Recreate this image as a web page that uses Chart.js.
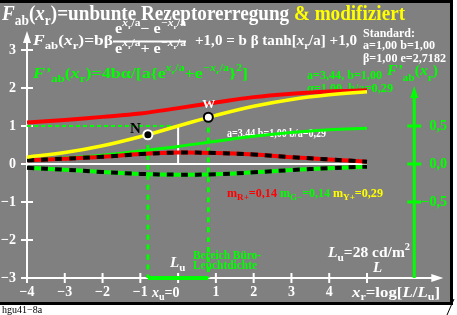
<!DOCTYPE html>
<html>
<head>
<meta charset="utf-8">
<script src="https://cdn.jsdelivr.net/npm/chart.js@4"></script>
<style>
  html, body { margin: 0; padding: 0; background: #fff; }
  canvas { display: block; }
</style>
</head>
<body>
<canvas id="c" width="457" height="315"></canvas>
<script>
// values (x = log[L/Lu])
const xs = [-4, -3, -2, -1, 0, 1, 2, 3, 4, 5];
const redF = [1.09, 1.16, 1.24, 1.33, 1.47, 1.62, 1.76, 1.85, 1.91, 1.94];
const yellowF = [0.18, 0.30, 0.48, 0.72, 1.00, 1.28, 1.52, 1.70, 1.82, 1.90];
const greenF = [0.10, 0.16, 0.23, 0.34, 0.46, 0.60, 0.73, 0.83, 0.90, 0.94];
const redD = [0.10, 0.14, 0.19, 0.26, 0.30, 0.29, 0.25, 0.18, 0.12, 0.06];
const greenD = [-0.10, -0.15, -0.21, -0.26, -0.28, -0.27, -0.22, -0.16, -0.11, -0.07];

const pointN = { x: -0.8, y: 0.77 };
const pointW = { x: 0.8, y: 1.23 };

const yTicks = [-3, -2, -1, 0, 1, 2, 3];
const xTicks = [-4, -3, -2, -1, 0, 1, 2, 3, 4];
const rightTicks = [1, 0, -1];
const rightLabels = ["0,5", "0,0", "\u22120,5"];

const GRAY = "#808080", GREEN = "#00ff00", RED = "#ff0000", YELLOW = "#ffff00";
const SERIF = "'Liberation Serif', 'DejaVu Serif', serif";

function pts(ys) { return xs.map((x, i) => ({ x: x, y: ys[i] })); }

function line(data, color, width, order, dash) {
  return {
    data: data, borderColor: color, borderWidth: width, borderDash: dash || [],
    pointRadius: 0, tension: 0.4, fill: false, clip: false, order: order
  };
}

// rich text: parts = [text, size, dy, color, italic]
function rich(ctx, x, y, parts, color, width) {
  let total = 0;
  parts.forEach(p => {
    ctx.font = (p[4] ? "italic " : "") + "bold " + p[1] + "px " + SERIF;
    total += ctx.measureText(p[0]).width;
  });
  const sx = width ? width / total : 1;
  ctx.save();
  ctx.translate(x, y);
  ctx.scale(sx, 1);
  ctx.textBaseline = "alphabetic";
  ctx.textAlign = "left";
  let cx = 0;
  parts.forEach(p => {
    ctx.font = (p[4] ? "italic " : "") + "bold " + p[1] + "px " + SERIF;
    ctx.fillStyle = p[3] || color;
    ctx.fillText(p[0], cx, p[2] || 0);
    cx += ctx.measureText(p[0]).width;
  });
  ctx.restore();
}

function arrow(ctx, x1, y1, x2, y2, color, w) {
  const a = Math.atan2(y2 - y1, x2 - x1);
  ctx.save();
  ctx.strokeStyle = color; ctx.fillStyle = color; ctx.lineWidth = w;
  ctx.beginPath(); ctx.moveTo(x1, y1);
  ctx.lineTo(x2 - 8 * Math.cos(a), y2 - 8 * Math.sin(a)); ctx.stroke();
  ctx.beginPath();
  ctx.moveTo(x2, y2);
  ctx.lineTo(x2 - 12 * Math.cos(a) + 4 * Math.sin(a), y2 - 12 * Math.sin(a) - 4 * Math.cos(a));
  ctx.lineTo(x2 - 12 * Math.cos(a) - 4 * Math.sin(a), y2 - 12 * Math.sin(a) + 4 * Math.cos(a));
  ctx.closePath(); ctx.fill();
  ctx.restore();
}

const frame = {
  id: "frame",
  beforeDraw(chart) {
    const ctx = chart.ctx;
    ctx.save();
    ctx.fillStyle = "#fff"; ctx.fillRect(0, 0, 457, 315);
    ctx.fillStyle = GRAY; ctx.fillRect(0, 0, 450, 302);
    ctx.fillStyle = "#000";
    ctx.fillRect(0, 0, 453, 3);
    ctx.fillRect(450, 0, 3, 305);
    ctx.fillRect(0, 302, 453, 3);
    ctx.strokeStyle = "#000"; ctx.lineWidth = 1;
    ctx.beginPath(); ctx.moveTo(447, 315); ctx.lineTo(454, 299); ctx.stroke();
    ctx.font = "10px " + SERIF; ctx.fillStyle = "#000";
    ctx.fillText("hgu41\u22128a", 2, 313);
    ctx.restore();
  },
  beforeDatasetsDraw(chart) {
    const ctx = chart.ctx;
    const sx = chart.scales.x, sy = chart.scales.y;
    const X = v => sx.getPixelForValue(v), Y = v => sy.getPixelForValue(v);
    ctx.save();
    // left axis and bottom axis
    arrow(ctx, X(-4), Y(-3), X(-4), Y(3.5), "#fff", 2);
    arrow(ctx, X(-4), Y(-3), X(7.02), Y(-3), "#fff", 2);
    // right green axis
    arrow(ctx, X(6.25), Y(-3), X(6.25), Y(2.05), GREEN, 3);
    ctx.lineWidth = 2;
    ctx.strokeStyle = "#fff";
    yTicks.forEach(v => {
      ctx.beginPath(); ctx.moveTo(X(-4) - 6, Y(v)); ctx.lineTo(X(-4) + 6, Y(v)); ctx.stroke();
    });
    xTicks.concat([5]).forEach(v => {
      ctx.beginPath(); ctx.moveTo(X(v), Y(-3) - 5); ctx.lineTo(X(v), Y(-3) + 5); ctx.stroke();
    });
    ctx.strokeStyle = GREEN; ctx.lineWidth = 3;
    rightTicks.forEach(v => {
      ctx.beginPath(); ctx.moveTo(X(6.25) - 7, Y(v)); ctx.lineTo(X(6.25) + 7, Y(v)); ctx.stroke();
    });

    ctx.textBaseline = "middle";
    ctx.font = "bold 14px " + SERIF;
    ctx.fillStyle = "#fff";
    ctx.textAlign = "right";
    yTicks.forEach(v => ctx.fillText(v < 0 ? "\u2212" + (-v) : String(v), 16, Y(v)));
    ctx.textAlign = "center";
    xTicks.forEach(v => {
      if (v !== 0) ctx.fillText(v < 0 ? "\u2212" + (-v) : String(v), X(v), 292);
    });
    ctx.fillStyle = GREEN; ctx.textAlign = "right";
    rightTicks.forEach((v, i) => ctx.fillText(rightLabels[i], 447, Y(v)));
    ctx.restore();

    // x labels
    rich(ctx, 152, 297, [["x", 14, 0, 0, 1], ["u", 10, 3], ["=0", 14]], "#fff");
    rich(ctx, 352, 297, [["x", 14, 0, 0, 1], ["r", 10, 3], ["=log[", 14], ["L", 14, 0, 0, 1], ["/", 14],
      ["L", 14, 0, 0, 1], ["u", 10, 3], ["]", 14]], "#fff", 88);

    // title
    rich(ctx, 2, 20, [["F", 20, 0, 0, 1], ["ab", 14, 5], ["(", 20], ["x", 20, 0, 0, 1], ["r", 14, 5],
      [")=unbunte Rezeptorerregung ", 20], ["& modifiziert", 20, 0, YELLOW]], "#fff", 403);
    // formula line
    rich(ctx, 33, 45, [["F", 15, 0, 0, 1], ["ab", 11, 4], ["(", 15], ["x", 15, 0, 0, 1], ["r", 11, 4],
      [")=b\u03b2", 15]], "#fff", 80);
    rich(ctx, 115, 33, [["e", 14], ["x", 10, -7, 0, 1], ["r", 7, -4], ["/a", 10, -7], ["\u2212 e", 14],
      ["\u2212x", 10, -7, 0, 1], ["r", 7, -4], ["/a", 10, -7]], "#fff", 71);
    rich(ctx, 115, 53, [["e", 14], ["x", 10, -7, 0, 1], ["r", 7, -4], ["/a", 10, -7], ["+ e", 14],
      ["\u2212x", 10, -7, 0, 1], ["r", 7, -4], ["/a", 10, -7]], "#fff", 71);
    ctx.save(); ctx.fillStyle = "#fff"; ctx.fillRect(113, 40.5, 73, 2); ctx.restore();
    rich(ctx, 195, 45, [["+1,0 = b \u03b2 tanh[", 15], ["x", 15, 0, 0, 1], ["r", 11, 4], ["/a] +1,0", 15]],
      "#fff", 162);
    // green derivative formula
    rich(ctx, 33, 78, [["F\u2019", 15, 0, 0, 1], ["ab", 11, 4], ["(", 15], ["x", 15, 0, 0, 1], ["r", 11, 4],
      [")=4b\u03b1/[a{e", 15], ["x", 10, -7, 0, 1], ["r", 7, -4], ["/a", 10, -7], ["+e", 15],
      ["\u2212x", 10, -7, 0, 1], ["r", 7, -4], ["/a", 10, -7], ["}", 15], ["2", 10, -7], ["]", 15]], GREEN, 215);
    // standard block
    rich(ctx, 363, 37, [["Standard:", 12]], "#fff", 52);
    rich(ctx, 363, 49, [["a=1,00 b=1,00", 12]], "#fff", 72);
    rich(ctx, 363, 62, [["\u03b2=1,00 e=2,7182", 12]], "#fff", 83);
    // green parameters
    rich(ctx, 307, 79, [["a=3,44, b=1,00", 12]], GREEN, 75);
    rich(ctx, 307, 92, [["\u03b1=1,00, b/a=0,29", 12]], GREEN, 86);
    rich(ctx, 387, 75, [["F\u2019", 15, 0, 0, 1], ["ab", 11, 6], ["(", 15], ["x", 15, 0, 0, 1], ["r", 11, 6],
      [")", 15]], GREEN, 51);
    rich(ctx, 227, 137, [["a=3,44 b=1,00 b/a=0,29", 12]], "#fff", 99);
    rich(ctx, 227, 197, [["m", 12], ["R+", 9, 3], ["=0,14 ", 12]], RED, 53);
    rich(ctx, 280, 197, [["m", 12], ["G\u2212", 9, 3], ["=0,14 ", 12]], GREEN, 53);
    rich(ctx, 333, 197, [["m", 12], ["Y+", 9, 3], ["=0,29", 12]], YELLOW, 50);
    // bottom labels
    rich(ctx, 328, 257, [["L", 15, 0, 0, 1], ["u", 11, 4], ["=28 cd/m", 15], ["2", 10, -7]], "#fff", 82);
    rich(ctx, 373, 272, [["L", 15, 0, 0, 1]], "#fff");
    rich(ctx, 170, 267, [["L", 15, 0, 0, 1], ["u", 11, 4]], "#fff");
    rich(ctx, 193, 259, [["Bereich B\u00fcro-", 12]], GREEN, 68);
    rich(ctx, 193, 269, [["Leuchtdichte", 12]], GREEN, 64);
  },
  afterDatasetsDraw(chart) {
    const ctx = chart.ctx;
    const sx = chart.scales.x, sy = chart.scales.y;
    rich(ctx, 130, 133, [["N", 15]], "#000");
    rich(ctx, sx.getPixelForValue(pointW.x) - 6, sy.getPixelForValue(pointW.y) - 9, [["W", 13]], "#fff");
  }
};

new Chart(document.getElementById("c"), {
  type: "line",
  data: {
    datasets: [
      line([{ x: -4, y: 0 }, { x: 5, y: 0 }], "#fff", 2, 20),
      line([{ x: -4, y: 1 }, { x: -0.1, y: 1 }], GREEN, 2, 20, [4, 3]),
      line([{ x: 0, y: 0 }, { x: 0, y: 1 }], "#fff", 2, 20),
      line([{ x: pointN.x, y: pointN.y }, { x: pointN.x, y: -3 }], GREEN, 3, 20, [5, 5]),
      line([{ x: pointW.x, y: pointW.y }, { x: pointW.x, y: -3 }], GREEN, 3, 20, [5, 5]),
      line([{ x: pointN.x, y: -3 }, { x: pointW.x, y: -3 }], GREEN, 4, 19),
      line(pts(greenF), GREEN, 3, 10),
      line(pts(redD), RED, 4, 9),
      line(pts(redD), "#000", 4, 8, [7, 7]),
      line(pts(greenD), GREEN, 4, 9),
      line(pts(greenD), "#000", 4, 8, [7, 7]),
      line(pts(redF), RED, 4, 6),
      line(pts(yellowF), YELLOW, 3.5, 5),
      {
        data: [pointN], showLine: false, pointRadius: 4.5, pointBorderWidth: 2,
        pointBackgroundColor: "#000", pointBorderColor: "#fff", clip: false, order: 1
      },
      {
        data: [pointW], showLine: false, pointRadius: 4.5, pointBorderWidth: 2,
        pointBackgroundColor: "#fff", pointBorderColor: "#000", clip: false, order: 1
      }
    ]
  },
  options: {
    responsive: false,
    devicePixelRatio: 1,
    animation: false,
    events: [],
    layout: { padding: { left: 27, right: 90, top: 50, bottom: 37 } },
    plugins: { legend: { display: false }, tooltip: { enabled: false } },
    scales: {
      x: { type: "linear", min: -4, max: 5, display: false },
      y: { min: -3, max: 3, display: false }
    }
  },
  plugins: [frame]
});
</script>
</body>
</html>
